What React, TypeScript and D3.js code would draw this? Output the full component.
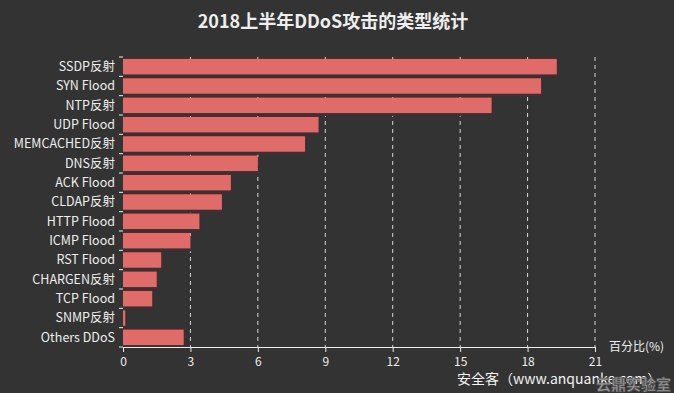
import React, { useRef, useEffect } from "react";
import * as d3 from "d3";

const categories = [
  "SSDP反射",
  "SYN Flood",
  "NTP反射",
  "UDP Flood",
  "MEMCACHED反射",
  "DNS反射",
  "ACK Flood",
  "CLDAP反射",
  "HTTP Flood",
  "ICMP Flood",
  "RST Flood",
  "CHARGEN反射",
  "TCP Flood",
  "SNMP反射",
  "Others DDoS",
];
const percents = [19.3, 18.6, 16.4, 8.7, 8.1, 6.0, 4.8, 4.4, 3.4, 3.0, 1.7, 1.5, 1.3, 0.1, 2.7];
const xTicks = [0, 3, 6, 9, 12, 15, 18, 21];

const App = () => {
  const chartRef = useRef<SVGSVGElement>(null);

  const width = 674;
  const height = 393;
  const left = 123;
  const right = 595;
  const top = 57;
  const bottom = 347;
  const font = "'Noto Sans CJK SC', 'Noto Sans', sans-serif";

  useEffect(() => {
    const svg = d3.select(chartRef.current);
    svg.selectAll("*").remove();

    svg.append("rect").attr("width", width).attr("height", height).attr("fill", "#333333");

    const x = d3.scaleLinear().domain([0, 21]).range([left, right]);
    const y = d3.scaleBand().domain(categories).range([top, bottom]).paddingInner(0.2).paddingOuter(0.1);
    const rows = categories.map((c, i) => ({ name: c, value: percents[i] }));

    // title
    svg
      .append("text")
      .attr("x", 333)
      .attr("y", 28)
      .attr("text-anchor", "middle")
      .attr("fill", "#eeeeee")
      .style("font-family", font)
      .style("font-size", "18px")
      .style("font-weight", "bold")
      .text("2018上半年DDoS攻击的类型统计");

    // dashed grid
    svg
      .selectAll("line.grid")
      .data(xTicks.filter((t) => t > 0))
      .enter()
      .append("line")
      .attr("x1", (d) => x(d))
      .attr("x2", (d) => x(d))
      .attr("y1", top)
      .attr("y2", bottom)
      .attr("stroke", "#d8d8d8")
      .attr("stroke-width", 1)
      .attr("stroke-dasharray", "4,4");

    // bar shadows
    svg
      .selectAll("rect.shadow")
      .data(rows)
      .enter()
      .append("rect")
      .attr("x", x(0) + 1)
      .attr("y", (d) => (y(d.name) as number) + 3)
      .attr("width", (d) => x(d.value) - x(0))
      .attr("height", y.bandwidth())
      .attr("fill", "#4a2a2e");

    svg
      .selectAll("rect.bar")
      .data(rows)
      .enter()
      .append("rect")
      .attr("x", x(0))
      .attr("y", (d) => y(d.name) as number)
      .attr("width", (d) => x(d.value) - x(0))
      .attr("height", y.bandwidth())
      .attr("fill", "#e06c69");

    // x axis
    const xAxis = svg
      .append("g")
      .attr("transform", `translate(0,${bottom})`)
      .call(d3.axisBottom(x).tickValues(xTicks).tickSize(5).tickSizeOuter(0));
    xAxis.select(".domain").attr("stroke", "#eeeeee");
    xAxis.selectAll(".tick line").attr("stroke", "#eeeeee");
    xAxis
      .selectAll(".tick text")
      .attr("fill", "#eeeeee")
      .attr("dy", "0.95em")
      .style("font-family", font)
      .style("font-size", "12px");

    // y axis ticks at band boundaries
    const edges = d3.range(categories.length + 1).map((i) => top + (i * (bottom - top)) / categories.length);
    svg
      .selectAll("line.ytick")
      .data(edges)
      .enter()
      .append("line")
      .attr("x1", left - 4)
      .attr("x2", left)
      .attr("y1", (d) => d)
      .attr("y2", (d) => d)
      .attr("stroke", "#eeeeee");

    svg
      .selectAll("text.ylabel")
      .data(categories)
      .enter()
      .append("text")
      .attr("x", left - 8)
      .attr("y", (d) => (y(d) as number) + y.bandwidth() / 2)
      .attr("dy", "0.35em")
      .attr("text-anchor", "end")
      .attr("fill", "#eeeeee")
      .style("font-family", font)
      .style("font-size", "12.5px")
      .text((d) => d);

    svg
      .append("text")
      .attr("x", 609)
      .attr("y", bottom + 4)
      .attr("fill", "#eeeeee")
      .style("font-family", font)
      .style("font-size", "12px")
      .text("百分比(%)");

    // watermarks
    svg
      .append("text")
      .attr("x", 457)
      .attr("y", 384)
      .attr("fill", "#f4f4f4")
      .style("font-family", font)
      .style("font-size", "14px")
      .text("安全客（www.anquanke.com）");
    svg
      .append("text")
      .attr("x", 596)
      .attr("y", 390)
      .attr("fill", "#9a9a9a")
      .attr("stroke", "#555555")
      .attr("stroke-width", 0.6)
      .style("font-family", font)
      .style("font-size", "15px")
      .style("font-weight", "bold")
      .text("云鼎实验室");
  }, []);

  return (
    <svg
      ref={chartRef}
      width={width}
      height={height}
      style={{ position: "absolute", left: 0, top: 0, display: "block" }}
    />
  );
};

export default App;
